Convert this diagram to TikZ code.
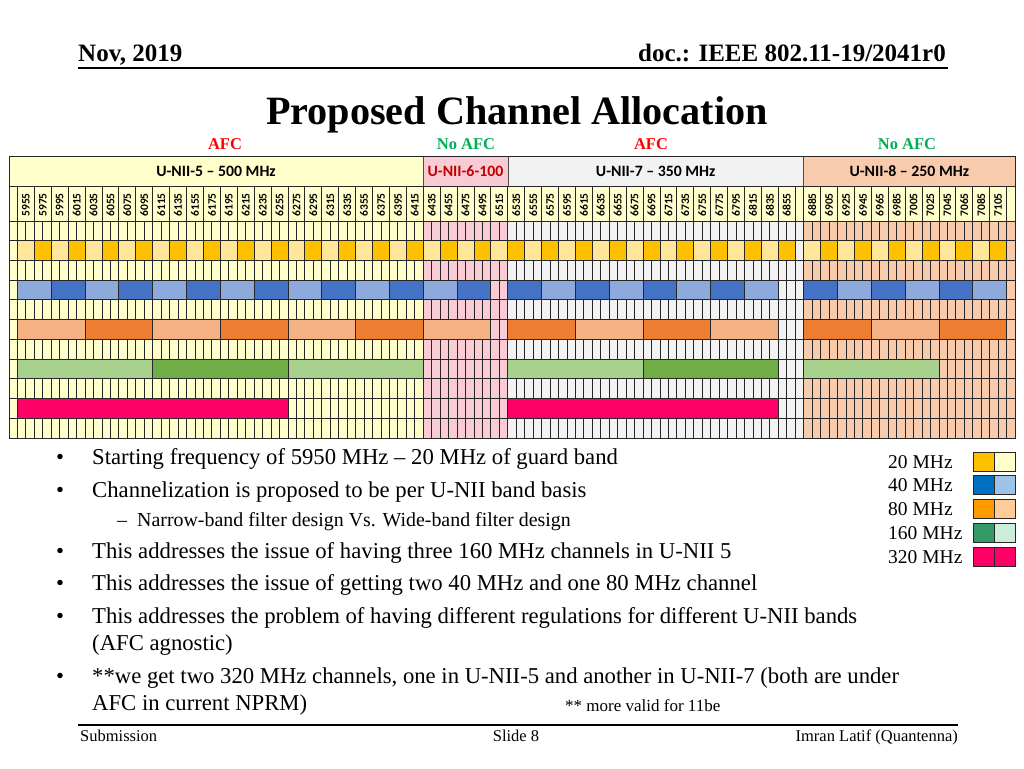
\documentclass[tikz,border=0pt]{standalone}
\usepackage{fontspec}
\setmainfont{Liberation Serif}
\newfontfamily\calfont{Carlito}

% band backgrounds
\definecolor{unifive}{HTML}{FFFFCC}
\definecolor{unisix}{HTML}{F9CBD4}
\definecolor{uniseven}{HTML}{F2F2F2}
\definecolor{unieight}{HTML}{F8CBAD}
% channel fills
\definecolor{twA}{HTML}{FFE699}
\definecolor{twB}{HTML}{FFC000}
\definecolor{foA}{HTML}{8EA9DB}
\definecolor{foB}{HTML}{4472C4}
\definecolor{eiA}{HTML}{F4B183}
\definecolor{eiB}{HTML}{ED7D31}
\definecolor{ohA}{HTML}{A9D18E}
\definecolor{ohB}{HTML}{70AD47}
\definecolor{wide}{HTML}{FF0066}
% legend and labels
\definecolor{lgtwA}{HTML}{FFC000}
\definecolor{lgtwB}{HTML}{FFFFCC}
\definecolor{lgfoA}{HTML}{0070C0}
\definecolor{lgfoB}{HTML}{9DC3E6}
\definecolor{lgeiA}{HTML}{FF9900}
\definecolor{lgeiB}{HTML}{FFCC99}
\definecolor{lgohA}{HTML}{339966}
\definecolor{lgohB}{HTML}{CCECDC}
\definecolor{afcred}{HTML}{FF0000}
\definecolor{afcgreen}{HTML}{00B050}
\definecolor{sixred}{HTML}{C00000}

% channel block: first cell, cells, row, colour
\newcommand{\blk}[4]{%
  \filldraw[gridline, fill=#4] ({9+(#1)*8.454},{221+(#3)*19.727})
    rectangle ({9+(#1+#2)*8.454},{221+(#3+1)*19.727});}

\begin{document}
\begin{tikzpicture}[x=1pt, y=-1pt,
  gridline/.style={draw=black!85, line width=0.9pt},
  freq/.style={rotate=90, font=\calfont\bfseries\fontsize{11.5}{12}\selectfont, inner sep=0pt},
  band/.style={font=\calfont\bfseries\fontsize{15.8}{17}\selectfont, inner sep=0pt},
  afc/.style={font=\bfseries\fontsize{16.5}{18}\selectfont, inner sep=0pt, anchor=base},
  item/.style={font=\fontsize{22.7}{26}\selectfont, inner sep=0pt, anchor=base west},
  subitem/.style={font=\fontsize{19.9}{22}\selectfont, inner sep=0pt, anchor=base west},
  dot/.style={font=\fontsize{22.7}{26}\selectfont, inner sep=0pt, anchor=base},
  legendtext/.style={font=\fontsize{19.5}{22}\selectfont, inner sep=0pt, anchor=base west},
  foot/.style={font=\fontsize{16.5}{18}\selectfont, inner sep=0pt, anchor=base}]
  \useasboundingbox (0,0) rectangle (1024,768);

  % header
  \node[font=\bfseries\fontsize{25}{28}\selectfont, inner sep=0pt, anchor=base west] (date) at (78,62) {Nov, 2019};
  \node[font=\bfseries\fontsize{25}{28}\selectfont, inner sep=0pt, anchor=base east] (doc) at (946,62) {doc.: IEEE 802.11-19/2041r0};
  \draw[line width=1.4pt] (78,68) -- (948,68);
  \node[font=\bfseries\fontsize{40.2}{42}\selectfont, inner sep=0pt, anchor=base] (title) at (517,124) {Proposed Channel Allocation};

  \node[afc, afcred] (afc5) at (225,149) {AFC};
  \node[afc, afcgreen] (afc6) at (466,149) {No AFC};
  \node[afc, afcred] (afc7) at (651,149) {AFC};
  \node[afc, afcgreen] (afc8) at (907,149) {No AFC};

  % band backgrounds
  \fill[unifive] (9,156) rectangle (423.25,438);
  \fill[unisix] (423.25,156) rectangle (507.79,438);
  \fill[uniseven] (507.79,156) rectangle (803.68,438);
  \fill[unieight] (803.68,156) rectangle (1015,438);
  \fill[unifive] (9,186) rectangle (1015,221);

  % 10 MHz cells
  \foreach \i in {0,...,119}
    \draw[gridline] ({9+\i*8.454},221) -- ({9+\i*8.454},438);
  \foreach \r in {0,...,11}
    \draw[gridline] (9,{221+\r*19.727}) -- (1015,{221+\r*19.727});

  % band header row
  \draw[gridline] (9,156) rectangle (1015,221);
  \draw[gridline] (9,186) -- (1015,186);
  \foreach \x in {423.25,507.79,803.68}
    \draw[black!70, line width=0.5pt] (\x,156) -- (\x,186);
  \node[band] (u5) at (216,171) {U-NII-5 – 500 MHz};
  \node[band, sixred] (u6) at (465.5,171) {U-NII-6-100};
  \node[band] (u7) at (655.7,171) {U-NII-7 – 350 MHz};
  \node[band] (u8) at (909.3,171) {U-NII-8 – 250 MHz};

  % channel number row
  \foreach \k in {0,...,46}
    \draw[gridline] ({9+(1+2*\k)*8.454},186) -- ({9+(1+2*\k)*8.454},221);
  \foreach \j in {0,...,12}
    \draw[gridline] ({9+(94+2*\j)*8.454},186) -- ({9+(94+2*\j)*8.454},221);
  \foreach \k in {0,...,45} {
    \pgfmathtruncatemacro\fr{5955+20*\k}
    \node[freq] (f\fr) at ({9+(2+2*\k)*8.454},205) {\fr};
  }
  \foreach \j in {0,...,11} {
    \pgfmathtruncatemacro\fr{6885+20*\j}
    \node[freq] (f\fr) at ({9+(95+2*\j)*8.454},205) {\fr};
  }

  % 20 MHz
  \foreach \k in {0,...,45} {
    \pgfmathtruncatemacro\c{1+2*\k}
    \ifodd\k \blk{\c}{2}{1}{twB}\else \blk{\c}{2}{1}{twA}\fi
  }
  \foreach \j in {0,...,11} {
    \pgfmathtruncatemacro\c{94+2*\j}
    \ifodd\j \blk{\c}{2}{1}{twB}\else \blk{\c}{2}{1}{twA}\fi
  }

  % 40 MHz
  \foreach \m in {0,...,13} {
    \pgfmathtruncatemacro\c{1+4*\m}
    \ifodd\m \blk{\c}{4}{3}{foB}\else \blk{\c}{4}{3}{foA}\fi
  }
  \foreach \n in {0,...,7} {
    \pgfmathtruncatemacro\c{59+4*\n}
    \ifodd\n \blk{\c}{4}{3}{foA}\else \blk{\c}{4}{3}{foB}\fi
  }
  \foreach \n in {0,...,5} {
    \pgfmathtruncatemacro\c{94+4*\n}
    \ifodd\n \blk{\c}{4}{3}{foA}\else \blk{\c}{4}{3}{foB}\fi
  }

  % 80 MHz
  \foreach \c/\col in {1/eiA,9/eiB,17/eiA,25/eiB,33/eiA,41/eiB,49/eiA,
                       59/eiB,67/eiA,75/eiB,83/eiA,94/eiB,102/eiA,110/eiB} {
    \blk{\c}{8}{5}{\col}
  }

  % 160 MHz
  \foreach \c/\col in {1/ohA,17/ohB,33/ohA,59/ohA,75/ohB,94/ohA} {
    \blk{\c}{16}{7}{\col}
  }

  % 320 MHz
  \blk{1}{32}{9}{wide}
  \blk{59}{32}{9}{wide}

  % outer frame
  \draw[gridline] (9,156) rectangle (1015,438);

  % bullets
  \node[dot] (b1) at (60,464) {•};
  \node[item] (t1) at (92,464) {Starting frequency of 5950 MHz – 20 MHz of guard band};
  \node[dot] (b2) at (60,497) {•};
  \node[item] (t2) at (92,497) {Channelization is proposed to be per U-NII band basis};
  \node[font=\fontsize{19.9}{22}\selectfont, inner sep=0pt, anchor=base] (s1) at (122,526) {–};
  \node[subitem] (t2a) at (137,526) {Narrow-band filter design Vs. Wide-band filter design};
  \node[dot] (b3) at (60,558) {•};
  \node[item] (t3) at (92,558) {This addresses the issue of having three 160 MHz channels in U-NII 5};
  \node[dot] (b4) at (60,590) {•};
  \node[item] (t4) at (92,590) {This addresses the issue of getting two 40 MHz and one 80 MHz channel};
  \node[dot] (b5) at (60,623) {•};
  \node[item] (t5) at (92,623) {This addresses the problem of having different regulations for different U-NII bands};
  \node[item] (t5b) at (92,650) {(AFC agnostic)};
  \node[dot] (b6) at (60,683) {•};
  \node[item] (t6) at (92,683) {**we get two 320 MHz channels, one in U-NII-5 and another in U-NII-7 (both are under};
  \node[item] (t6b) at (92,710) {AFC in current NPRM)};
  \node[font=\fontsize{17}{19}\selectfont, inner sep=0pt, anchor=base west] (note) at (565,711) {** more valid for 11be};

  % legend
  \foreach \y/\lab/\ca/\cb in {452/20/lgtwA/lgtwB, 475.5/40/lgfoA/lgfoB, 499/80/lgeiA/lgeiB,
                               523/160/lgohA/lgohB, 547/320/wide/wide} {
    \node[legendtext] (lg\lab) at (888,\y+16) {\lab\ MHz};
    \filldraw[fill=\ca, draw=black!85, line width=0.9pt] (973,\y) rectangle (994,\y+19);
    \filldraw[fill=\cb, draw=black!85, line width=0.9pt] (994,\y) rectangle (1015,\y+19);
  }

  % footer
  \draw[line width=1.2pt] (78,725) -- (958,725);
  \node[foot, anchor=base west] (sub) at (80,741) {Submission};
  \node[foot] (slide) at (516,741) {Slide 8};
  \node[foot, anchor=base east] (author) at (958,741) {Imran Latif (Quantenna)};
\end{tikzpicture}
\end{document}
